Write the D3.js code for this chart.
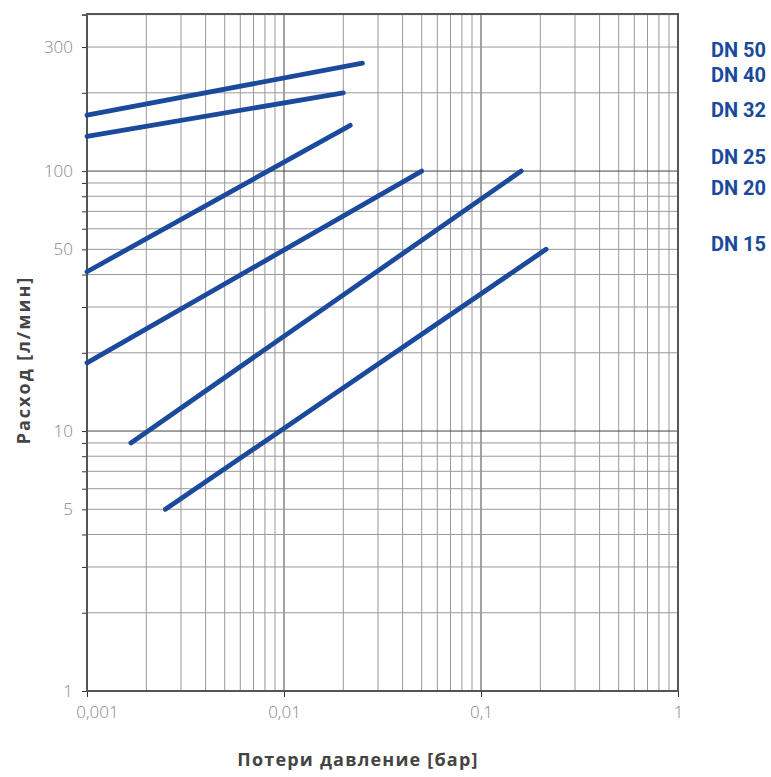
<!DOCTYPE html>
<html>
<head>
<meta charset="utf-8">
<script src="https://cdn.jsdelivr.net/npm/d3@7"></script>
<style>
  body { margin: 0; background: #fff; }
  svg { display: block; }
</style>
</head>
<body>
<svg id="chart"></svg>
<script>

// data: [pressure loss (bar), flow (l/min)]
const seriesNames = ["DN 50", "DN 40", "DN 32", "DN 25", "DN 20", "DN 15"];
const dn50 = [[0.001, 164], [0.025, 260]];
const dn40 = [[0.001, 136], [0.02, 200]];
const dn32 = [[0.001, 41], [0.0217, 150]];
const dn25 = [[0.001, 18.3], [0.05, 100]];
const dn20 = [[0.00167, 9], [0.16, 100]];
const dn15 = [[0.0025, 5], [0.214, 50]];
const series = [dn50, dn40, dn32, dn25, dn20, dn15];

// legend labels sit next to these flow values
const legendY = [294, 234, 172, 113, 86, 52.4];

const xTicks = [0.001, 0.01, 0.1, 1];
const xTickLabels = ["0,001", "0,01", "0,1", "1"];
const yTicks = [1, 5, 10, 50, 100, 300];

const margin = {top: 14, right: 93, bottom: 86, left: 87},
	width = 771 - margin.left - margin.right,
	height = 777 - margin.top - margin.bottom;

const blue = "#1b4a9c";

const xScale = d3.scaleLog().domain([0.001, 1]).range([0, width]);
const yScale = d3.scaleLog().domain([1, 402]).range([height, 0]);

const svg = d3.select("#chart")
	.attr("width", 771)
	.attr("height", 777)
	.append("g")
	.attr("transform", "translate(" + margin.left + "," + margin.top + ")");

// minor + major grid values
var xGrid = [], yGrid = [];
[0.001, 0.01, 0.1].forEach(d => { for (var k = 1; k < 10; k++) xGrid.push(d * k); });
xGrid.push(1);
[1, 10, 100].forEach(d => { for (var k = 1; k < 10; k++) if (d * k <= 400) yGrid.push(d * k); });
yGrid.push(400);

const isMajor = v => Math.abs(Math.log10(v) - Math.round(Math.log10(v))) < 1e-6;

svg.append("g").attr("class", "grid")
	.selectAll("line.vx")
	.data(xGrid).enter()
	.append("line")
	.attr("x1", d => xScale(d)).attr("x2", d => xScale(d))
	.attr("y1", 0).attr("y2", height)
	.attr("stroke", d => isMajor(d) ? "#444" : "#999")
	.attr("stroke-width", 1);

svg.append("g").attr("class", "grid")
	.selectAll("line.hy")
	.data(yGrid).enter()
	.append("line")
	.attr("y1", d => yScale(d)).attr("y2", d => yScale(d))
	.attr("x1", 0).attr("x2", width)
	.attr("stroke", d => isMajor(d) ? "#444" : "#999")
	.attr("stroke-width", 1);

// axes
const yAxis = svg.append("g")
	.attr("class", "y axis")
	.call(d3.axisLeft(yScale).tickValues(yGrid).tickSize(5).tickFormat(""));
yAxis.select(".domain").remove();
yAxis.selectAll("line").attr("stroke", "#333");

svg.selectAll("text.ylab")
	.data(yTicks).enter()
	.append("text")
	.attr("x", -14)
	.attr("y", d => yScale(d))
	.attr("dy", "0.36em")
	.attr("text-anchor", "end")
	.attr("font-family", "Open Sans")
	.attr("font-weight", 300)
	.attr("font-size", "17px")
	.attr("fill", "#888")
	.text(d => d);

const xAxis = svg.append("g")
	.attr("class", "x axis")
	.attr("transform", "translate(0," + height + ")")
	.call(d3.axisBottom(xScale).tickValues(xTicks).tickSize(6).tickFormat((d, i) => xTickLabels[i]));
xAxis.select(".domain").remove();
xAxis.selectAll("line").attr("stroke", "#333");
xAxis.selectAll("text")
	.attr("y", 27)
	.attr("dy", null)
	.attr("font-family", "Open Sans")
	.attr("font-weight", 300)
	.attr("font-size", "17px")
	.attr("fill", "#888");
// first label is pushed inside like in the original
xAxis.selectAll("text").filter((d, i) => i === 0).attr("x", 10);

// frame
svg.append("rect")
	.attr("x", 0).attr("y", 0)
	.attr("width", width).attr("height", height)
	.attr("fill", "none")
	.attr("stroke", "#555")
	.attr("stroke-width", 2);

// curves
const line = d3.line()
	.x(d => xScale(d[0]))
	.y(d => yScale(d[1]));

series.forEach(s => {
	svg.append("path")
		.datum(s)
		.attr("d", line)
		.attr("fill", "none")
		.attr("stroke", blue)
		.attr("stroke-width", 4.8)
		.attr("stroke-linecap", "round");
});

// legend
svg.selectAll("text.legend")
	.data(seriesNames).enter()
	.append("text")
	.attr("x", 624)
	.attr("y", (d, i) => yScale(legendY[i]))
	.attr("dy", "0.36em")
	.attr("font-family", "Roboto")
	.attr("font-weight", "bold")
	.attr("font-size", "20px")
	.attr("fill", blue)
	.text(d => d);

// axis titles
svg.append("text")
	.attr("transform", "translate(-57," + 346 + ") rotate(-90)")
	.attr("text-anchor", "middle")
	.attr("font-family", "Open Sans")
	.attr("font-weight", "bold")
	.attr("font-size", "18px")
	.attr("letter-spacing", "2px")
	.attr("fill", "#444")
	.text("Расход [л/мин]");

svg.append("text")
	.attr("x", 271)
	.attr("y", height + 75)
	.attr("text-anchor", "middle")
	.attr("font-family", "Open Sans")
	.attr("font-weight", "bold")
	.attr("font-size", "18px")
	.attr("letter-spacing", "1.2px")
	.attr("fill", "#444")
	.text("Потери давление [бар]");

</script>
</body>
</html>
